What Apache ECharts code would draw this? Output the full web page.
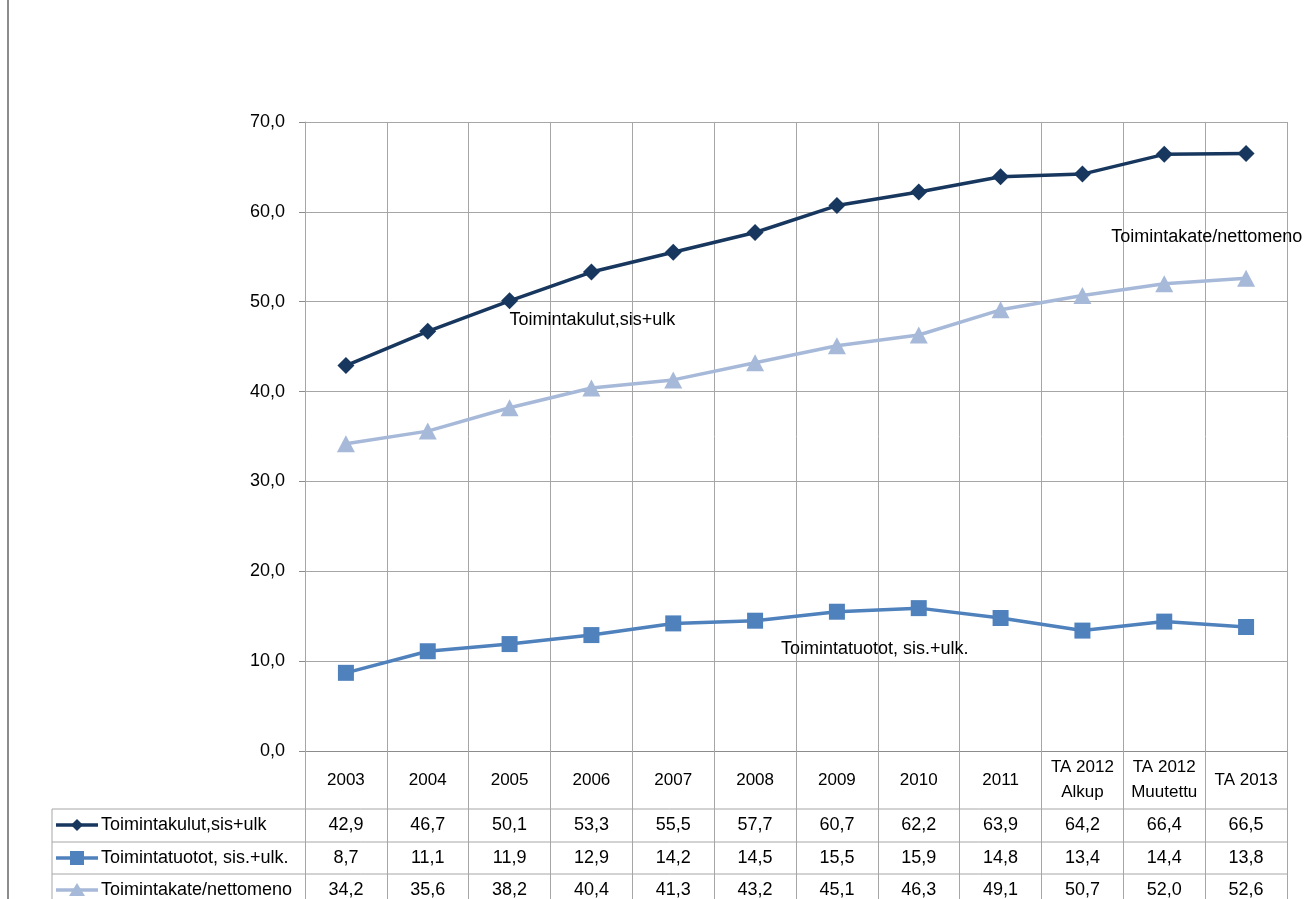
<!DOCTYPE html>
<html><head><meta charset="utf-8">
<script src="https://cdn.jsdelivr.net/npm/echarts@6/dist/echarts.min.js"></script>
<style>html,body{margin:0;padding:0;background:#fff}#c{width:1310px;height:899px}</style>
</head><body><div id="c"></div>
<script>
const categories = ['2003','2004','2005','2006','2007','2008','2009','2010','2011','TA 2012\nAlkup','TA 2012\nMuutettu','TA 2013'];
const seriesNames = ['Toimintakulut,sis+ulk','Toimintatuotot, sis.+ulk.','Toimintakate/nettomeno'];
const kulut = [42.9,46.7,50.1,53.3,55.5,57.7,60.7,62.2,63.9,64.2,66.4,66.5];
const tuotot = [8.7,11.1,11.9,12.9,14.2,14.5,15.5,15.9,14.8,13.4,14.4,13.8];
const kate = [34.2,35.6,38.2,40.4,41.3,43.2,45.1,46.3,49.1,50.7,52.0,52.6];
const yMin = 0, yMax = 70, yStep = 10;

const colors = ['#17375E','#4F81BD','#A7B9D9'];
const symbols = ['diamond','rect','triangle'];
const symSizes = [[17,17],[16,16],[18,17]];
const FONT = "'Liberation Sans', Arial, sans-serif";
const FS = 18;
const fmt = v => v.toFixed(1).replace('.', ',');
const allData = [kulut, tuotot, kate];
const GRID = '#a6a6a6';

const chart = echarts.init(document.getElementById('c'));
const option = {
  animation: false,
  backgroundColor: '#fff',
  textStyle: { fontFamily: FONT },
  grid: { left: 305, right: 23, top: 122, bottom: 148 },
  xAxis: {
    type: 'category', data: categories, boundaryGap: true,
    axisLine: { show: true, lineStyle: { color: '#8c8c8c', width: 1 } },
    axisTick: { show: true, interval: 0, length: 160, lineStyle: { color: GRID, width: 1 } },
    splitLine: { show: true, interval: 0, lineStyle: { color: GRID, width: 1 } },
    axisLabel: { interval: 0, margin: 29, verticalAlign: 'middle', lineHeight: 25, fontSize: 17, color: '#000', fontFamily: FONT }
  },
  yAxis: {
    type: 'value', min: yMin, max: yMax, interval: yStep,
    axisLine: { show: true, lineStyle: { color: GRID } },
    axisTick: { show: true, length: 6, lineStyle: { color: '#8c8c8c' } },
    splitLine: { show: true, lineStyle: { color: GRID, width: 1 } },
    axisLabel: { margin: 20, fontSize: FS, color: '#000', fontFamily: FONT, formatter: v => fmt(v) }
  },
  series: allData.map((d, i) => ({
    name: seriesNames[i], type: 'line', data: d,
    symbol: symbols[i], symbolSize: symSizes[i], showAllSymbol: true,
    lineStyle: { color: colors[i], width: 3.5 },
    itemStyle: { color: colors[i], borderWidth: 0 },
    z: 5 - i
  }))
};
chart.setOption(option);

// Build data table and annotations from the library's scales
const pts = categories.map((c, i) => chart.convertToPixel({ gridIndex: 0 }, [i, 0]));
const colW = pts[1][0] - pts[0][0];
const y0 = pts[0][1];
const rightX = pts[pts.length - 1][0] + colW / 2;
const tableLeft = 52;
const rowTops = [y0 + 58, y0 + 91, y0 + 123];
const rowH = 32;
const g = [];
// chart outer left border
g.push({ type: 'line', shape: { x1: 8, y1: 0, x2: 8, y2: 899 }, style: { stroke: '#8c8c8c', lineWidth: 2 } });
rowTops.forEach(t => g.push({ type: 'line', shape: { x1: tableLeft, y1: t, x2: rightX, y2: t }, style: { stroke: GRID, lineWidth: 1 } }));
g.push({ type: 'line', shape: { x1: tableLeft, y1: rowTops[0], x2: tableLeft, y2: 899 }, style: { stroke: GRID, lineWidth: 1 } });

function markerShape(i, cx, cy) {
  const s = 6;
  if (i === 0) return { type: 'polygon', shape: { points: [[cx, cy - s], [cx + s, cy], [cx, cy + s], [cx - s, cy]] }, style: { fill: colors[i] } };
  if (i === 1) return { type: 'rect', shape: { x: cx - 7, y: cy - 7, width: 14, height: 14 }, style: { fill: colors[i] } };
  return { type: 'polygon', shape: { points: [[cx, cy - 7], [cx + 8, cy + 6], [cx - 8, cy + 6]] }, style: { fill: colors[i] } };
}

allData.forEach((d, r) => {
  const cy = rowTops[r] + rowH / 2;
  g.push({ type: 'line', shape: { x1: 56, y1: cy, x2: 98, y2: cy }, style: { stroke: colors[r], lineWidth: 3.5 } });
  g.push(markerShape(r, 77, cy));
  g.push({ type: 'text', x: 101, y: cy, style: { text: seriesNames[r], font: FS + 'px ' + FONT, fill: '#000', textVerticalAlign: 'middle', textAlign: 'left' } });
  d.forEach((v, i) => {
    g.push({ type: 'text', x: pts[i][0], y: cy, style: { text: fmt(v), font: FS + 'px ' + FONT, fill: '#000', textAlign: 'center', textVerticalAlign: 'middle' } });
  });
});

// series name annotations inside the plot
const annots = [
  { s: 0, i: 2, dx: 0, dy: 19 },
  { s: 1, i: 6, dx: -56, dy: 37 },
  { s: 2, i: 10, dx: -53, dy: -47 }
];
annots.forEach(a => {
  const p = chart.convertToPixel({ gridIndex: 0 }, [a.i, allData[a.s][a.i]]);
  g.push({ type: 'text', x: p[0] + a.dx, y: p[1] + a.dy, z: 10, style: { text: seriesNames[a.s], font: FS + 'px ' + FONT, fill: '#000', textAlign: 'left', textVerticalAlign: 'middle' } });
});

chart.setOption({ graphic: g });
</script>
</body></html>
